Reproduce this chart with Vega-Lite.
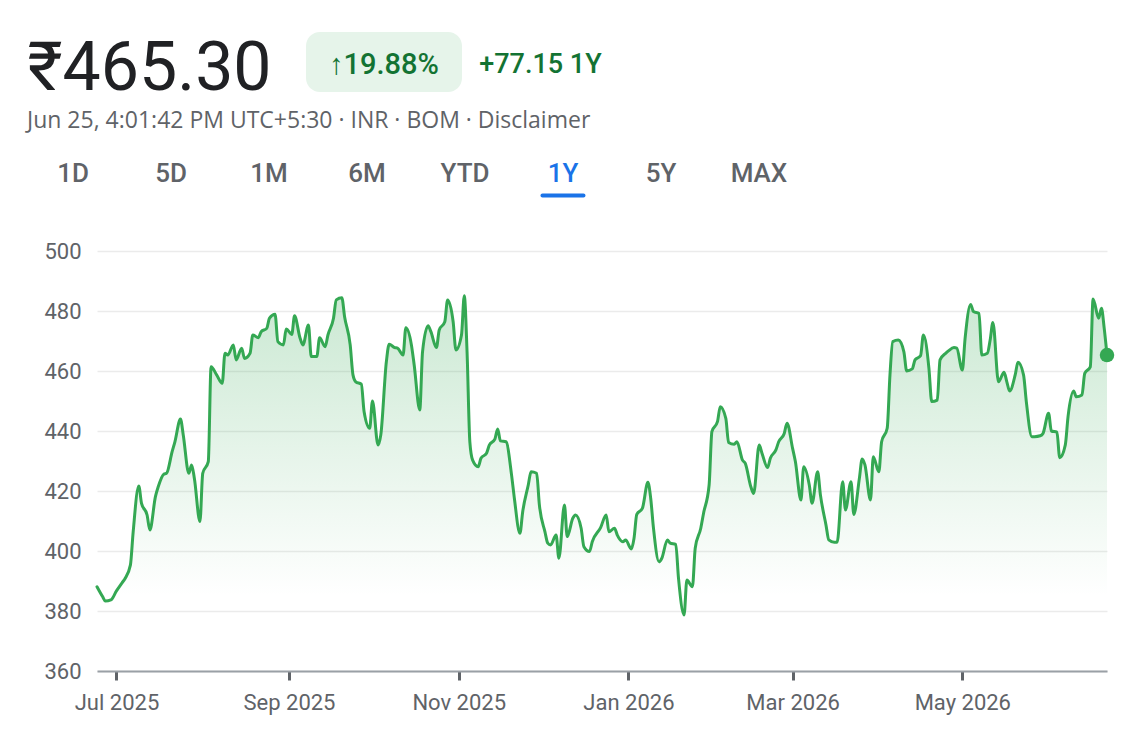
{
  "$schema": "https://vega.github.io/schema/vega-lite/v6.json",
  "background": "white",
  "padding": {"left": 27, "top": 32, "right": 10, "bottom": 5},
  "config": {
    "font": "Roboto",
    "view": {"stroke": null},
    "title": {"font": "Roboto"}
  },
  "datasets": {
    "header": [
      {"item": "price", "label": "₹465.30"},
      {"item": "badge", "label": "↑19.88%"},
      {"item": "change", "label": "+77.15 1Y"}
    ],
    "tabs": [
      {"tab": "1D"}, {"tab": "5D"}, {"tab": "1M"}, {"tab": "6M"},
      {"tab": "YTD"}, {"tab": "1Y"}, {"tab": "5Y"}, {"tab": "MAX"}
    ],
    "prices": [
      {"date": "2025-06-24", "value": 388.1},
      {"date": "2025-06-26", "value": 384.8},
      {"date": "2025-06-27", "value": 383.3},
      {"date": "2025-06-29", "value": 383.7},
      {"date": "2025-07-01", "value": 386.7},
      {"date": "2025-07-03", "value": 389.4},
      {"date": "2025-07-04", "value": 390.7},
      {"date": "2025-07-06", "value": 395.3},
      {"date": "2025-07-07", "value": 406.4},
      {"date": "2025-07-09", "value": 421.7},
      {"date": "2025-07-10", "value": 415.9},
      {"date": "2025-07-12", "value": 412.0},
      {"date": "2025-07-13", "value": 407.0},
      {"date": "2025-07-15", "value": 418.1},
      {"date": "2025-07-16", "value": 421.4},
      {"date": "2025-07-18", "value": 425.6},
      {"date": "2025-07-19", "value": 425.9},
      {"date": "2025-07-21", "value": 433.1},
      {"date": "2025-07-22", "value": 436.4},
      {"date": "2025-07-24", "value": 444.0},
      {"date": "2025-07-25", "value": 438.7},
      {"date": "2025-07-27", "value": 425.9},
      {"date": "2025-07-28", "value": 428.7},
      {"date": "2025-07-29", "value": 424.2},
      {"date": "2025-07-31", "value": 409.8},
      {"date": "2025-08-01", "value": 425.9},
      {"date": "2025-08-03", "value": 429.8},
      {"date": "2025-08-04", "value": 461.4},
      {"date": "2025-08-06", "value": 458.7},
      {"date": "2025-08-08", "value": 455.9},
      {"date": "2025-08-09", "value": 465.9},
      {"date": "2025-08-10", "value": 465.3},
      {"date": "2025-08-12", "value": 468.7},
      {"date": "2025-08-13", "value": 463.7},
      {"date": "2025-08-15", "value": 467.6},
      {"date": "2025-08-16", "value": 464.2},
      {"date": "2025-08-18", "value": 465.9},
      {"date": "2025-08-19", "value": 472.0},
      {"date": "2025-08-21", "value": 471.1},
      {"date": "2025-08-22", "value": 473.1},
      {"date": "2025-08-24", "value": 474.2},
      {"date": "2025-08-25", "value": 477.6},
      {"date": "2025-08-27", "value": 478.9},
      {"date": "2025-08-28", "value": 469.8},
      {"date": "2025-08-30", "value": 468.7},
      {"date": "2025-08-31", "value": 474.0},
      {"date": "2025-09-02", "value": 472.2},
      {"date": "2025-09-03", "value": 478.4},
      {"date": "2025-09-05", "value": 470.9},
      {"date": "2025-09-06", "value": 468.7},
      {"date": "2025-09-08", "value": 475.3},
      {"date": "2025-09-09", "value": 464.8},
      {"date": "2025-09-11", "value": 464.8},
      {"date": "2025-09-12", "value": 471.1},
      {"date": "2025-09-14", "value": 468.1},
      {"date": "2025-09-15", "value": 472.0},
      {"date": "2025-09-17", "value": 477.6},
      {"date": "2025-09-18", "value": 483.7},
      {"date": "2025-09-20", "value": 484.4},
      {"date": "2025-09-21", "value": 478.0},
      {"date": "2025-09-23", "value": 468.7},
      {"date": "2025-09-24", "value": 458.7},
      {"date": "2025-09-25", "value": 456.4},
      {"date": "2025-09-27", "value": 455.6},
      {"date": "2025-09-28", "value": 446.4},
      {"date": "2025-09-30", "value": 440.9},
      {"date": "2025-10-01", "value": 450.0},
      {"date": "2025-10-03", "value": 435.3},
      {"date": "2025-10-04", "value": 438.7},
      {"date": "2025-10-06", "value": 463.1},
      {"date": "2025-10-07", "value": 468.9},
      {"date": "2025-10-09", "value": 467.8},
      {"date": "2025-10-10", "value": 467.6},
      {"date": "2025-10-12", "value": 465.3},
      {"date": "2025-10-13", "value": 474.4},
      {"date": "2025-10-15", "value": 468.7},
      {"date": "2025-10-16", "value": 462.0},
      {"date": "2025-10-18", "value": 447.0},
      {"date": "2025-10-19", "value": 466.4},
      {"date": "2025-10-21", "value": 475.1},
      {"date": "2025-10-22", "value": 473.1},
      {"date": "2025-10-24", "value": 467.8},
      {"date": "2025-10-25", "value": 473.7},
      {"date": "2025-10-27", "value": 476.4},
      {"date": "2025-10-28", "value": 483.7},
      {"date": "2025-10-30", "value": 476.4},
      {"date": "2025-10-31", "value": 467.0},
      {"date": "2025-11-02", "value": 472.0},
      {"date": "2025-11-03", "value": 485.1},
      {"date": "2025-11-04", "value": 466.4},
      {"date": "2025-11-05", "value": 436.4},
      {"date": "2025-11-06", "value": 430.3},
      {"date": "2025-11-08", "value": 428.1},
      {"date": "2025-11-09", "value": 430.9},
      {"date": "2025-11-11", "value": 432.6},
      {"date": "2025-11-12", "value": 435.3},
      {"date": "2025-11-14", "value": 437.3},
      {"date": "2025-11-15", "value": 440.7},
      {"date": "2025-11-16", "value": 436.7},
      {"date": "2025-11-18", "value": 436.4},
      {"date": "2025-11-20", "value": 425.3},
      {"date": "2025-11-21", "value": 417.6},
      {"date": "2025-11-23", "value": 405.9},
      {"date": "2025-11-24", "value": 413.1},
      {"date": "2025-11-26", "value": 422.0},
      {"date": "2025-11-27", "value": 426.4},
      {"date": "2025-11-29", "value": 425.9},
      {"date": "2025-11-30", "value": 415.3},
      {"date": "2025-12-02", "value": 406.4},
      {"date": "2025-12-03", "value": 402.6},
      {"date": "2025-12-04", "value": 402.0},
      {"date": "2025-12-06", "value": 405.3},
      {"date": "2025-12-07", "value": 397.6},
      {"date": "2025-12-09", "value": 415.3},
      {"date": "2025-12-10", "value": 404.8},
      {"date": "2025-12-12", "value": 410.9},
      {"date": "2025-12-13", "value": 412.0},
      {"date": "2025-12-15", "value": 407.6},
      {"date": "2025-12-16", "value": 401.4},
      {"date": "2025-12-18", "value": 399.8},
      {"date": "2025-12-19", "value": 403.1},
      {"date": "2025-12-22", "value": 407.8},
      {"date": "2025-12-24", "value": 412.0},
      {"date": "2025-12-25", "value": 406.4},
      {"date": "2025-12-27", "value": 407.6},
      {"date": "2025-12-28", "value": 405.3},
      {"date": "2025-12-30", "value": 403.1},
      {"date": "2025-12-31", "value": 403.7},
      {"date": "2026-01-02", "value": 400.7},
      {"date": "2026-01-03", "value": 404.2},
      {"date": "2026-01-04", "value": 412.2},
      {"date": "2026-01-06", "value": 414.2},
      {"date": "2026-01-08", "value": 422.9},
      {"date": "2026-01-09", "value": 417.6},
      {"date": "2026-01-10", "value": 407.6},
      {"date": "2026-01-12", "value": 396.4},
      {"date": "2026-01-13", "value": 397.6},
      {"date": "2026-01-15", "value": 403.7},
      {"date": "2026-01-16", "value": 402.6},
      {"date": "2026-01-18", "value": 402.2},
      {"date": "2026-01-19", "value": 390.9},
      {"date": "2026-01-21", "value": 378.7},
      {"date": "2026-01-22", "value": 390.3},
      {"date": "2026-01-24", "value": 388.1},
      {"date": "2026-01-25", "value": 400.9},
      {"date": "2026-01-27", "value": 407.6},
      {"date": "2026-01-28", "value": 412.6},
      {"date": "2026-01-30", "value": 422.0},
      {"date": "2026-01-31", "value": 439.8},
      {"date": "2026-02-02", "value": 443.1},
      {"date": "2026-02-03", "value": 448.1},
      {"date": "2026-02-05", "value": 444.2},
      {"date": "2026-02-06", "value": 436.2},
      {"date": "2026-02-08", "value": 435.6},
      {"date": "2026-02-09", "value": 436.4},
      {"date": "2026-02-11", "value": 430.3},
      {"date": "2026-02-12", "value": 429.2},
      {"date": "2026-02-14", "value": 421.4},
      {"date": "2026-02-15", "value": 419.2},
      {"date": "2026-02-17", "value": 435.3},
      {"date": "2026-02-18", "value": 432.6},
      {"date": "2026-02-20", "value": 427.8},
      {"date": "2026-02-21", "value": 430.9},
      {"date": "2026-02-23", "value": 433.7},
      {"date": "2026-02-24", "value": 436.4},
      {"date": "2026-02-26", "value": 439.2},
      {"date": "2026-02-27", "value": 442.6},
      {"date": "2026-03-01", "value": 434.2},
      {"date": "2026-03-02", "value": 429.8},
      {"date": "2026-03-04", "value": 417.0},
      {"date": "2026-03-05", "value": 428.1},
      {"date": "2026-03-07", "value": 422.0},
      {"date": "2026-03-08", "value": 415.9},
      {"date": "2026-03-10", "value": 426.4},
      {"date": "2026-03-11", "value": 418.7},
      {"date": "2026-03-13", "value": 408.7},
      {"date": "2026-03-14", "value": 403.7},
      {"date": "2026-03-16", "value": 402.9},
      {"date": "2026-03-17", "value": 402.9},
      {"date": "2026-03-19", "value": 423.1},
      {"date": "2026-03-20", "value": 413.7},
      {"date": "2026-03-22", "value": 423.1},
      {"date": "2026-03-23", "value": 412.2},
      {"date": "2026-03-25", "value": 424.2},
      {"date": "2026-03-26", "value": 430.7},
      {"date": "2026-03-27", "value": 428.7},
      {"date": "2026-03-29", "value": 417.0},
      {"date": "2026-03-30", "value": 431.4},
      {"date": "2026-04-01", "value": 426.4},
      {"date": "2026-04-02", "value": 436.4},
      {"date": "2026-04-04", "value": 440.9},
      {"date": "2026-04-05", "value": 458.7},
      {"date": "2026-04-06", "value": 469.8},
      {"date": "2026-04-08", "value": 470.3},
      {"date": "2026-04-10", "value": 466.4},
      {"date": "2026-04-11", "value": 460.0},
      {"date": "2026-04-13", "value": 460.7},
      {"date": "2026-04-14", "value": 463.7},
      {"date": "2026-04-16", "value": 465.1},
      {"date": "2026-04-17", "value": 472.0},
      {"date": "2026-04-19", "value": 460.9},
      {"date": "2026-04-20", "value": 449.8},
      {"date": "2026-04-22", "value": 450.3},
      {"date": "2026-04-23", "value": 463.7},
      {"date": "2026-04-25", "value": 465.9},
      {"date": "2026-04-26", "value": 466.7},
      {"date": "2026-04-28", "value": 467.8},
      {"date": "2026-04-29", "value": 467.6},
      {"date": "2026-05-01", "value": 460.3},
      {"date": "2026-05-02", "value": 470.9},
      {"date": "2026-05-04", "value": 482.2},
      {"date": "2026-05-05", "value": 479.8},
      {"date": "2026-05-07", "value": 479.2},
      {"date": "2026-05-08", "value": 465.3},
      {"date": "2026-05-10", "value": 465.9},
      {"date": "2026-05-11", "value": 470.3},
      {"date": "2026-05-12", "value": 476.2},
      {"date": "2026-05-14", "value": 456.4},
      {"date": "2026-05-16", "value": 459.6},
      {"date": "2026-05-17", "value": 456.4},
      {"date": "2026-05-18", "value": 453.3},
      {"date": "2026-05-20", "value": 458.7},
      {"date": "2026-05-21", "value": 462.9},
      {"date": "2026-05-23", "value": 458.7},
      {"date": "2026-05-24", "value": 449.8},
      {"date": "2026-05-26", "value": 438.1},
      {"date": "2026-05-27", "value": 438.1},
      {"date": "2026-05-29", "value": 438.4},
      {"date": "2026-05-30", "value": 439.2},
      {"date": "2026-06-01", "value": 445.9},
      {"date": "2026-06-02", "value": 440.0},
      {"date": "2026-06-04", "value": 439.6},
      {"date": "2026-06-05", "value": 431.1},
      {"date": "2026-06-07", "value": 435.3},
      {"date": "2026-06-08", "value": 444.8},
      {"date": "2026-06-10", "value": 453.3},
      {"date": "2026-06-11", "value": 451.4},
      {"date": "2026-06-13", "value": 452.0},
      {"date": "2026-06-14", "value": 459.2},
      {"date": "2026-06-16", "value": 461.4},
      {"date": "2026-06-17", "value": 484.0},
      {"date": "2026-06-19", "value": 477.6},
      {"date": "2026-06-20", "value": 480.9},
      {"date": "2026-06-21", "value": 474.2},
      {"date": "2026-06-22", "value": 465.3}
    ]
  },
  "spacing": 6,
  "vconcat": [
    {
      "bounds": "flush",
      "spacing": 34,
      "hconcat": [
        {
          "width": 245, "height": 60,
          "data": {"name": "header"},
          "transform": [{"filter": "datum.item === 'price'"}],
          "mark": {"type": "text", "fontSize": 68, "color": "#202124", "align": "center", "baseline": "middle", "dy": 8},
          "encoding": {"text": {"field": "label"}}
        },
        {
          "width": 156, "height": 60,
          "view": {"fill": "#e6f4ea", "cornerRadius": 14, "stroke": null},
          "data": {"name": "header"},
          "transform": [{"filter": "datum.item === 'badge'"}],
          "mark": {"type": "text", "fontSize": 29, "fontWeight": 500, "color": "#137333", "align": "center", "baseline": "middle", "dy": 3},
          "encoding": {"text": {"field": "label"}}
        },
        {
          "width": 89, "height": 60,
          "data": {"name": "header"},
          "transform": [{"filter": "datum.item === 'change'"}],
          "mark": {"type": "text", "fontSize": 27, "fontWeight": 500, "color": "#137333", "align": "center", "baseline": "middle", "dy": 3},
          "encoding": {"text": {"field": "label"}}
        }
      ]
    },
    {
      "width": 778, "height": 91,
      "title": {
        "text": "Jun 25, 4:01:42 PM UTC+5:30 · INR · BOM · Disclaimer",
        "anchor": "start", "frame": "group", "font": "Open Sans", "fontSize": 23, "fontWeight": "normal",
        "color": "#5f6368", "offset": 10
      },
      "data": {"name": "tabs"},
      "encoding": {
        "x": {"field": "tab", "type": "nominal", "scale": {"type": "point", "domain": ["1D", "5D", "1M", "6M", "YTD", "1Y", "5Y", "MAX"], "padding": 0.47}, "axis": null},
        "y": {"datum": "tabs", "type": "nominal", "scale": {"type": "point", "domain": ["tabs"], "padding": 0, "align": 0.345}, "axis": null}
      },
      "layer": [
        {
          "mark": {"type": "text", "fontSize": 26, "fontWeight": 500, "baseline": "middle", "align": "center"},
          "encoding": {
            "text": {"field": "tab"},
            "color": {"condition": {"test": "datum.tab === '1Y'", "value": "#1a73e8"}, "value": "#5f6368"}
          }
        },
        {
          "transform": [{"filter": "datum.tab === '1Y'"}],
          "mark": {"type": "tick", "orient": "horizontal", "size": 45, "thickness": 4, "cornerRadius": 2, "color": "#1a73e8", "opacity": 1, "yOffset": 21},
          "encoding": {}
        }
      ]
    },
    {
      "width": 1080, "height": 420,
      "data": {"name": "prices"},
      "encoding": {
        "x": {
          "field": "date", "type": "temporal",
          "scale": {
            "type": "utc", "nice": false,
            "domain": [
              {"year": 2025, "month": 6, "date": 24, "utc": true},
              {"year": 2026, "month": 6, "date": 22, "utc": true}
            ],
            "range": [70, 1080]
          },
          "axis": {
            "title": null,
            "values": [
              {"year": 2025, "month": 7, "date": 1, "utc": true},
              {"year": 2025, "month": 9, "date": 1, "utc": true},
              {"year": 2025, "month": 11, "date": 1, "utc": true},
              {"year": 2026, "month": 1, "date": 1, "utc": true},
              {"year": 2026, "month": 3, "date": 1, "utc": true},
              {"year": 2026, "month": 5, "date": 1, "utc": true}
            ],
            "format": "%b %Y",
            "grid": false,
            "domainColor": "#9aa0a6", "domainWidth": 2,
            "tickColor": "#5f6368", "tickWidth": 3, "tickSize": 9,
            "labelFontSize": 22, "labelColor": "#5f6368", "labelPadding": 12,
            "labelFlush": false, "labelOverlap": false
          }
        },
        "y": {
          "field": "value", "type": "quantitative",
          "scale": {"domain": [360, 500], "nice": false, "zero": false},
          "axis": {
            "title": null,
            "values": [360, 380, 400, 420, 440, 460, 480, 500],
            "domain": false, "ticks": false, "offset": -70,
            "grid": true, "gridColor": "#ebebeb", "gridWidth": 1.5,
            "labelFontSize": 22, "labelColor": "#5f6368", "labelPadding": 16
          }
        }
      },
      "layer": [
        {
          "mark": {
            "type": "area", "interpolate": "monotone",
            "color": {
              "gradient": "linear", "x1": 0, "y1": 0, "x2": 0, "y2": 1,
              "stops": [
                {"offset": 0, "color": "rgba(52,168,83,0.26)"},
                {"offset": 0.8, "color": "rgba(52,168,83,0)"},
                {"offset": 1, "color": "rgba(52,168,83,0)"}
              ]
            }
          },
          "encoding": {"y2": {"datum": 360}}
        },
        {
          "mark": {"type": "line", "interpolate": "monotone", "color": "#34a853", "strokeWidth": 3, "strokeJoin": "round", "strokeCap": "round"},
          "encoding": {}
        },
        {
          "transform": [
            {"window": [{"op": "row_number", "as": "rn"}], "sort": [{"field": "date", "order": "descending"}]},
            {"filter": "datum.rn === 1"}
          ],
          "mark": {"type": "point", "filled": true, "size": 210, "color": "#34a853", "opacity": 1},
          "encoding": {}
        }
      ]
    }
  ]
}
